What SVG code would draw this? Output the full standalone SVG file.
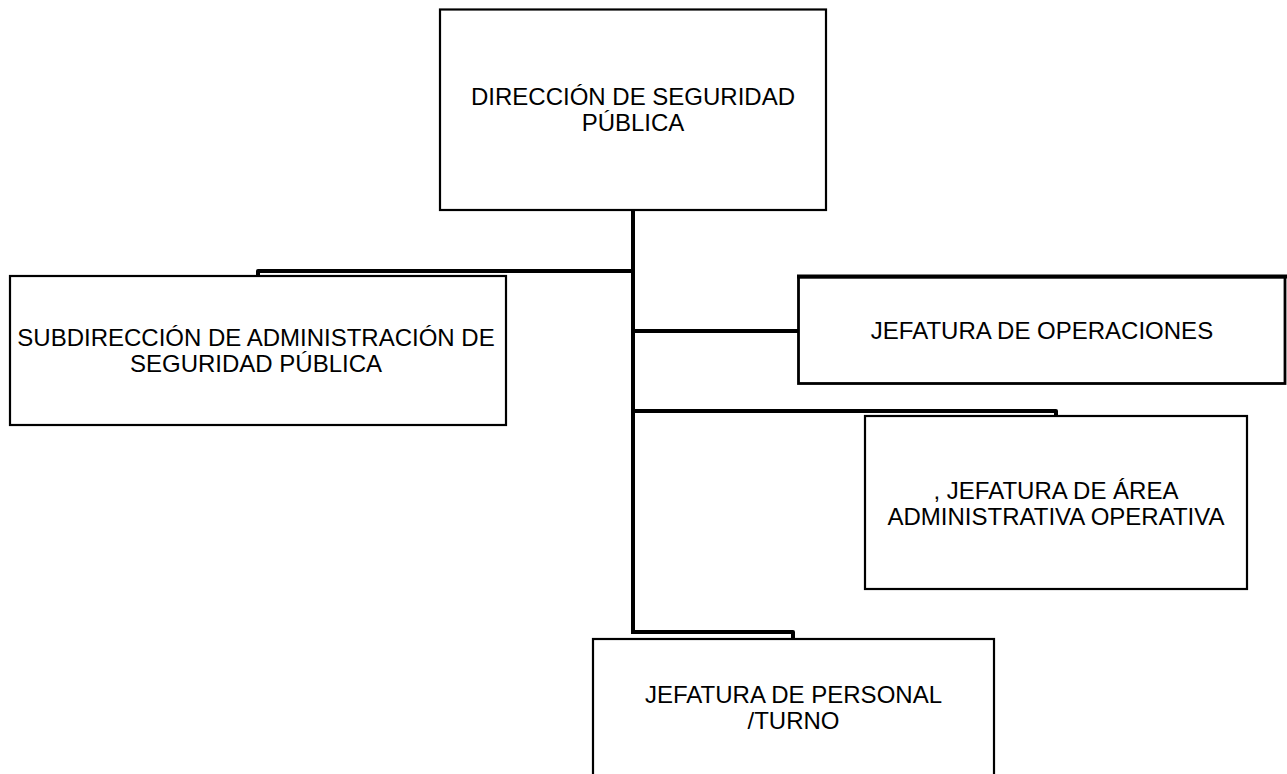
<svg xmlns="http://www.w3.org/2000/svg" width="1287" height="774" viewBox="0 0 1287 774">
<style>
.box{fill:#fff;stroke:#000;stroke-width:2.2}
.lbl{font-family:"Liberation Sans",Arial,sans-serif;font-size:24px;fill:#000;text-anchor:middle}
.con{fill:none;stroke:#000;stroke-width:4;stroke-linejoin:round;stroke-linecap:butt}
</style>
<rect width="1287" height="774" fill="#fff"/>
<g id="connectors">
<path class="con" d="M633 210 V634"/>
<path class="con" d="M633 271 H258 V276"/>
<path class="con" d="M633 331 H799"/>
<path class="con" d="M633 411 H1056 V416"/>
<path class="con" d="M633 632 H793 V639"/>
</g>
<g id="n-direccion">
<rect class="box" x="440" y="9.5" width="386" height="200.5"/>
<text class="lbl" x="633" y="104.5">DIRECCIÓN DE SEGURIDAD</text>
<text class="lbl" x="633" y="130.5">PÚBLICA</text>
</g>
<g id="n-subdireccion">
<rect class="box" x="10" y="276" width="496" height="149"/>
<text class="lbl" x="256" y="346">SUBDIRECCIÓN DE ADMINISTRACIÓN DE</text>
<text class="lbl" x="256" y="372">SEGURIDAD PÚBLICA</text>
</g>
<g id="n-operaciones">
<rect class="box" x="798.5" y="277" width="486.5" height="106.5" style="stroke-width:2.8"/>
<path class="con" d="M797 276.5 H1287"/>
<text class="lbl" x="1042" y="339">JEFATURA DE OPERACIONES</text>
</g>
<g id="n-area">
<rect class="box" x="865" y="416" width="382" height="173"/>
<text class="lbl" x="1056" y="499">, JEFATURA DE ÁREA</text>
<text class="lbl" x="1056" y="525">ADMINISTRATIVA OPERATIVA</text>
</g>
<g id="n-personal">
<rect class="box" x="593" y="639" width="401" height="140"/>
<text class="lbl" x="793.5" y="703">JEFATURA DE PERSONAL</text>
<text class="lbl" x="793.5" y="729">/TURNO</text>
</g>
</svg>
